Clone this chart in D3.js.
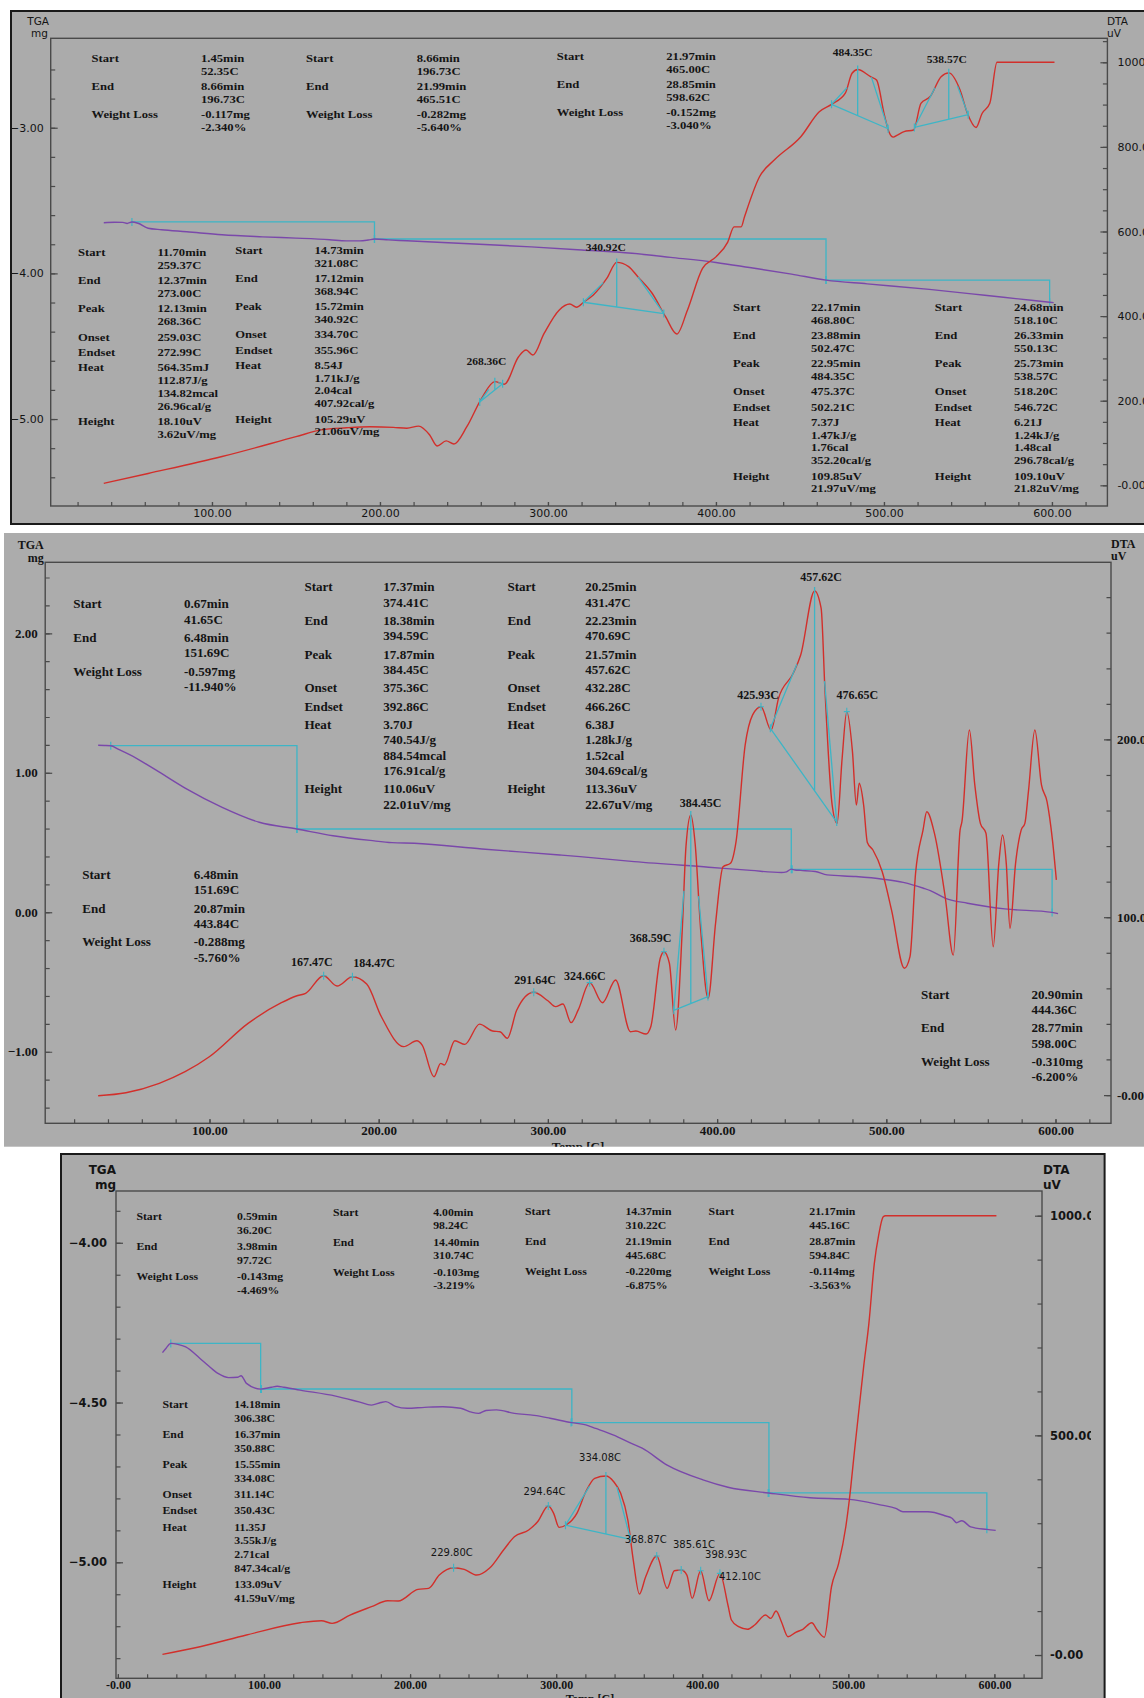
<!DOCTYPE html>
<html>
<head>
<meta charset="utf-8">
<script src="https://cdnjs.cloudflare.com/ajax/libs/d3/7.8.5/d3.min.js"></script>
<style>
	body { margin: 0; background: #fff; }
	svg { display: block; }
</style>
</head>
<body>
<div id="chart-area"></div>
<script>

// ---------- panel 1 data (temperature C, value) ----------
const p1Tga = [[35.6,-3.652],[42,-3.649],[47,-3.650],[49.5,-3.657],[52.35,-3.647],[56,-3.656],[62,-3.690],[70,-3.700],[85,-3.714],[106,-3.735],[130,-3.749],[150,-3.758],[170,-3.769],[180,-3.777],[188,-3.777],[193,-3.771],[196.73,-3.764],[205,-3.770],[216,-3.776],[250,-3.795],[290,-3.818],[320,-3.839],[350,-3.862],[373,-3.890],[400,-3.925],[420,-3.960],[445,-4.005],[465.51,-4.046],[490,-4.072],[527,-4.110],[560,-4.150],[580,-4.175],[598.62,-4.198],[601,-4.201]];
const p1Dta = [[35.6,4.7],[62,28],[106,68],[150,115],[165,131],[180,136],[194,138.5],[208,137],[216,135],[223,140],[229.6,119],[234,93],[239.4,105],[244,97.6],[251.7,138.5],[260.5,205.6],[268.36,245],[274,239],[282.5,304],[287,320],[291,308],[297.7,359],[306.6,414],[313,428.6],[317,421],[321.5,434],[327,450],[335,489],[340.92,527],[348,517],[353.5,493],[362,454],[370,398.6],[376.7,357.7],[383,414],[392,513],[400,540],[407,575],[410.8,611],[415,611],[417,635],[426,730],[435,770],[450.5,824],[461.5,883],[469,901],[477,927],[481,974],[484.35,983],[492,966],[495.6,958],[500,880],[503,835],[505.5,823],[508,828],[512,836],[517.7,840],[522,903],[527.5,919],[534,966],[538.57,975],[545.3,934.5],[549.7,879],[554.8,846],[558.4,879],[563,903],[567.3,1000],[601.5,1000]];
const p1StepStart = [52.35, 196.73, 465.51];
const p1StepEnd = [196.73, 465.51, 598.62];
const p1StepLoss = [-0.117, -0.282, -0.152];
const p1PeakStart = [259.37, 321.08, 468.80, 518.10];
const p1PeakTop = [268.36, 340.92, 484.35, 538.57];
const p1PeakEnd = [273.00, 368.94, 502.47, 550.13];
const p1Marks = [];
const p1MgTicks = [-5, -4, -3];
const p1UvTicks = [0, 200, 400, 600, 800, 1000];

// ---------- panel 2 data ----------
const p2Tga = [[34.2,1.197],[38,1.196],[41.65,1.194],[46,1.170],[52.8,1.130],[68,1.022],[85.6,0.890],[107.5,0.752],[129.4,0.645],[151.69,0.597],[173,0.549],[195,0.515],[208,0.499],[221,0.495],[261,0.454],[307,0.411],[319,0.399],[351,0.363],[395,0.323],[420,0.300],[438,0.285],[441,0.290],[443.84,0.309],[446,0.303],[449.4,0.300],[458,0.292],[465,0.268],[482,0.256],[498,0.237],[510,0.214],[522,0.172],[526,0.155],[535,0.100],[548,0.065],[570,0.024],[598,-0.001],[601.5,-0.010]];
const p2Dta = [[34.2,-0.4],[50.6,1.3],[70.3,6.6],[85.6,13.1],[99.9,21.5],[122.8,40.3],[142.5,51.9],[151.3,55.7],[156.8,57.2],[167.47,67.1],[175.4,61.3],[184.47,66.5],[192.9,62.4],[201.6,44],[214.8,27.2],[222.5,30.5],[225.7,28.1],[232.7,10.3],[236.6,17.8],[238.8,16.9],[245,30.5],[250.9,28.5],[259.6,39.9],[267.3,36],[271.7,35.6],[276,31.9],[281.6,47.8],[291.64,57.8],[300,53],[304.5,49.7],[308.9,51.2],[313.7,40.7],[318,48],[324.66,63.2],[332.3,51.9],[340,64.7],[348.8,35.6],[352,36],[358,34.3],[360.8,38.4],[366.4,76.9],[368.59,80.6],[371.8,74.1],[375.5,36.6],[379.4,92.8],[381.6,139.7],[384.45,157.5],[387,141.6],[390.3,92.8],[394.7,54.4],[399.1,96.6],[403.5,128.4],[407.9,130.3],[411.2,142.5],[416.6,196.9],[421,213.8],[425.93,218.4],[431.9,205.3],[436.3,223.1],[445,237.2],[449.4,247.5],[457.62,283.5],[461.5,273.7],[463.7,228.7],[468,163.1],[470.9,152.8],[473.9,189.4],[476.65,215.6],[480,193.1],[482.3,163.1],[484,175.3],[486.6,163.1],[488.8,142],[492.1,137.8],[497.6,125.6],[503.1,104],[510.7,71.3],[514,77.8],[517.3,124.7],[521.7,149],[523.9,159.3],[528.5,147],[534.8,111.5],[539.6,78.7],[543.6,149],[544.7,153.7],[549.1,205.3],[552.3,174.4],[555.6,152.8],[558.9,147.2],[563.2,83.4],[566.5,130.3],[568.7,146.2],[570.9,130.3],[573.1,93.8],[576.4,130.3],[579.7,149],[581.9,152.8],[584,170.6],[587.8,205.3],[591.7,174.4],[595,165],[598.3,142.5],[600.5,121]];
const p2StepStart = [41.65, 151.69, 444.36];
const p2StepEnd = [151.69, 443.84, 598.00];
const p2StepLoss = [-0.597, -0.288, -0.310];
const p2PeakStart = [374.41, 431.47];
const p2PeakTop = [384.45, 457.62];
const p2PeakEnd = [394.59, 470.69];
const p2Marks = [167.47, 184.47, 291.64, 324.66, 368.59, 425.93, 476.65];
const p2MgTicks = [-1, 0, 1, 2];
const p2UvTicks = [0, 100, 200];

// ---------- panel 3 data ----------
const p3Tga = [[30.5,-4.344],[33,-4.330],[36.2,-4.315],[41,-4.318],[46.4,-4.326],[56.2,-4.362],[62,-4.385],[68.5,-4.409],[75.8,-4.422],[81.9,-4.421],[84.3,-4.416],[88,-4.440],[97.72,-4.458],[105.1,-4.452],[109,-4.449],[113.6,-4.452],[124.7,-4.461],[149.1,-4.480],[165,-4.498],[173.6,-4.508],[180,-4.500],[183.4,-4.497],[190,-4.512],[198,-4.518],[210,-4.515],[222.5,-4.513],[234.7,-4.518],[242,-4.530],[246.9,-4.534],[252,-4.525],[259.1,-4.523],[271.4,-4.534],[285,-4.540],[295.8,-4.549],[310.5,-4.563],[320.3,-4.570],[327.1,-4.581],[339.4,-4.602],[351.5,-4.628],[358.9,-4.643],[376,-4.696],[400.5,-4.742],[417.6,-4.765],[445.5,-4.783],[473.8,-4.798],[500.7,-4.803],[522.7,-4.821],[532.5,-4.831],[537.4,-4.842],[554.5,-4.842],[566.7,-4.855],[571,-4.862],[574.1,-4.876],[577.7,-4.870],[583.8,-4.889],[594.84,-4.897],[600.9,-4.900]];
const p3Dta = [[30.5,1.6],[56.2,18.9],[88,45.5],[124.7,73.5],[139.3,78.1],[146.6,72.1],[158.9,91],[173.6,110],[184.6,123.6],[191.9,122.9],[205.4,149.5],[212.7,151.8],[220,182],[229.8,198.7],[237.1,195],[245.7,182],[254.3,197.3],[264,239],[271.4,269.2],[281.2,284.5],[287.3,303.4],[294.64,339.1],[298.3,322.5],[302,290.6],[306.8,295.9],[314.2,322.5],[320.3,371.6],[326.4,402.1],[334.08,407.4],[339.4,394.4],[344.2,368],[349.1,307.2],[352.8,216.2],[357,138.8],[361.3,178.2],[368.87,225.3],[376,151.8],[380.9,191.9],[385.61,193.4],[389.5,182],[393.1,129],[398.93,191.9],[404.6,123.6],[412.1,185.9],[417.6,113.8],[420,79.7],[424.9,64.4],[431,58.5],[435.9,68.3],[443.3,91],[446.9,83.5],[450.6,100.1],[454.2,75.8],[458.7,41.6],[464,51.7],[468.9,58.5],[475,73.5],[478.7,56.9],[483.6,40.3],[488.5,155.4],[493.4,208.7],[498.3,292],[500.7,352.8],[504.3,466.5],[508,580],[510.5,656],[514.1,755],[517.8,891],[520.8,956],[523.9,997.5],[525.5,1000],[601.4,1000]];
const p3StepStart = [36.20, 98.24, 310.22, 445.16];
const p3StepEnd = [97.72, 310.74, 445.68, 594.84];
const p3StepLoss = [-0.143, -0.103, -0.220, -0.114];
const p3PeakStart = [306.38];
const p3PeakTop = [334.08];
const p3PeakEnd = [350.88];
const p3Marks = [229.80, 294.64, 368.87, 385.61, 398.93, 412.10];
const p3MgTicks = [-5, -4.5, -4];
const p3UvTicks = [0, 500, 1000];

const xTicks = [100, 200, 300, 400, 500, 600];
const xTicks3 = [0, 100, 200, 300, 400, 500, 600];

// ---------- result tables ----------
const p1Blocks = [
	[['Start','1.45min'],['','52.35C'],['End','8.66min'],['','196.73C'],['Weight Loss','-0.117mg'],['','-2.340%']],
	[['Start','8.66min'],['','196.73C'],['End','21.99min'],['','465.51C'],['Weight Loss','-0.282mg'],['','-5.640%']],
	[['Start','21.97min'],['','465.00C'],['End','28.85min'],['','598.62C'],['Weight Loss','-0.152mg'],['','-3.040%']],
	[['Start','11.70min'],['','259.37C'],['End','12.37min'],['','273.00C'],['Peak','12.13min'],['','268.36C'],['Onset','259.03C'],['Endset','272.99C'],['Heat','564.35mJ'],['','112.87J/g'],['','134.82mcal'],['','26.96cal/g'],['Height','18.10uV'],['','3.62uV/mg']],
	[['Start','14.73min'],['','321.08C'],['End','17.12min'],['','368.94C'],['Peak','15.72min'],['','340.92C'],['Onset','334.70C'],['Endset','355.96C'],['Heat','8.54J'],['','1.71kJ/g'],['','2.04cal'],['','407.92cal/g'],['Height','105.29uV'],['','21.06uV/mg']],
	[['Start','22.17min'],['','468.80C'],['End','23.88min'],['','502.47C'],['Peak','22.95min'],['','484.35C'],['Onset','475.37C'],['Endset','502.21C'],['Heat','7.37J'],['','1.47kJ/g'],['','1.76cal'],['','352.20cal/g'],['Height','109.85uV'],['','21.97uV/mg']],
	[['Start','24.68min'],['','518.10C'],['End','26.33min'],['','550.13C'],['Peak','25.73min'],['','538.57C'],['Onset','518.20C'],['Endset','546.72C'],['Heat','6.21J'],['','1.24kJ/g'],['','1.48cal'],['','296.78cal/g'],['Height','109.10uV'],['','21.82uV/mg']]
];
const p2Blocks = [
	[['Start','0.67min'],['','41.65C'],['End','6.48min'],['','151.69C'],['Weight Loss','-0.597mg'],['','-11.940%']],
	[['Start','17.37min'],['','374.41C'],['End','18.38min'],['','394.59C'],['Peak','17.87min'],['','384.45C'],['Onset','375.36C'],['Endset','392.86C'],['Heat','3.70J'],['','740.54J/g'],['','884.54mcal'],['','176.91cal/g'],['Height','110.06uV'],['','22.01uV/mg']],
	[['Start','20.25min'],['','431.47C'],['End','22.23min'],['','470.69C'],['Peak','21.57min'],['','457.62C'],['Onset','432.28C'],['Endset','466.26C'],['Heat','6.38J'],['','1.28kJ/g'],['','1.52cal'],['','304.69cal/g'],['Height','113.36uV'],['','22.67uV/mg']],
	[['Start','6.48min'],['','151.69C'],['End','20.87min'],['','443.84C'],['Weight Loss','-0.288mg'],['','-5.760%']],
	[['Start','20.90min'],['','444.36C'],['End','28.77min'],['','598.00C'],['Weight Loss','-0.310mg'],['','-6.200%']]
];
const p3Blocks = [
	[['Start','0.59min'],['','36.20C'],['End','3.98min'],['','97.72C'],['Weight Loss','-0.143mg'],['','-4.469%']],
	[['Start','4.00min'],['','98.24C'],['End','14.40min'],['','310.74C'],['Weight Loss','-0.103mg'],['','-3.219%']],
	[['Start','14.37min'],['','310.22C'],['End','21.19min'],['','445.68C'],['Weight Loss','-0.220mg'],['','-6.875%']],
	[['Start','21.17min'],['','445.16C'],['End','28.87min'],['','594.84C'],['Weight Loss','-0.114mg'],['','-3.563%']],
	[['Start','14.18min'],['','306.38C'],['End','16.37min'],['','350.88C'],['Peak','15.55min'],['','334.08C'],['Onset','311.14C'],['Endset','350.43C'],['Heat','11.35J'],['','3.55kJ/g'],['','2.71cal'],['','847.34cal/g'],['Height','133.09uV'],['','41.59uV/mg']]
];

// ---------- styles ----------
const serif = '"Liberation Serif", "Times New Roman", serif';
const sans = '"DejaVu Sans", Verdana, sans-serif';
const cyan = '#3db5c6';
const purple = '#7a48aa';
const red = '#d22f2b';
const ink = '#141414';

// layout of each panel (page pixels)
const panels = [
	{
		bg: [11, 11, 1150, 513], fill: '#ababab', border: true, clip: [11, 11, 1150, 513],
		plot: { left: 50.7, right: 1107.4, top: 38.3, bottom: 506 },
		tDomain: [4, 633], mgDomain: [-5.597, -2.386], uvDomain: [-48.9, 1056.7],
		tga: p1Tga, dta: p1Dta, steps: [p1StepStart, p1StepEnd, p1StepLoss],
		peaks: [p1PeakStart, p1PeakTop, p1PeakEnd], marks: p1Marks,
		labelOff: [[-8.4,-21],[-11,-15.7],[-5,-17.5],[-2,-13.6]],
		xTicks: xTicks, mgTicks: p1MgTicks, uvTicks: p1UvTicks, mgStep: 0.2, uvStep: 50, xStart: 20,
		pad: { left: 7, right: 10, bottom: 3.5 },
		tickFont: [sans, 11, 'normal'], xFont: [sans, 11, 'normal'], unitFont: [sans, 10.5, 'normal'],
		blockFont: [serif, 11, 'bold', 1.15], peakFont: [serif, 11, 'bold', 1.05],
		units: { tga: [49, 25], mg: [48, 37], dta: [1107, 25], uv: [1107, 37] },
		blocks: p1Blocks,
		blockPos: [[91.5, 201, 58.3], [306, 416.7, 58.3], [556.7, 666.3, 56.3], [78, 157.4, 252.3], [235.2, 314.4, 250], [733, 811, 307], [934.8, 1014, 307]],
		gaps: [15.3, 12.8], tempLabel: null
	},
	{
		bg: [4, 533, 1150, 613.7], fill: '#acacac', border: false, clip: [4, 533, 1150, 613.7],
		plot: { left: 45.2, right: 1111, top: 562.3, bottom: 1123.3 },
		tDomain: [2.9, 632.8], mgDomain: [-1.513, 2.509], uvDomain: [-15.9, 299.6],
		tga: p2Tga, dta: p2Dta, steps: [p2StepStart, p2StepEnd, p2StepLoss],
		peaks: [p2PeakStart, p2PeakTop, p2PeakEnd], marks: p2Marks,
		labelOff: [[9.9,-11.7],[6.4,-14.3],[-11.8,-14],[21.6,-14],[1.4,-12.2],[-4.8,-7],[-13.3,-13.4],[-3,-11.7],[10.6,-16.7]],
		xTicks: xTicks, mgTicks: p2MgTicks, uvTicks: p2UvTicks, mgStep: 0.2, uvStep: 20, xStart: 20,
		pad: { left: 7.4, right: 6, bottom: 2.2 },
		tickFont: [serif, 13, 'bold'], xFont: [serif, 13, 'bold'], unitFont: [serif, 12, 'bold'],
		blockFont: [serif, 12, 'bold', 1.09], peakFont: [serif, 12, 'bold', 1],
		units: { tga: [43.7, 548.5], mg: [43.7, 561.5], dta: [1111, 548], uv: [1111, 560] },
		blocks: p2Blocks,
		blockPos: [[73.3, 184, 604.3], [304.4, 383.3, 587.3], [507.4, 585.2, 587.3], [82.2, 193.7, 875], [921, 1031.5, 994.7]],
		gaps: [18.3, 15.4], tempLabel: [578, 1150.5, 13]
	},
	{
		bg: [61, 1154, 1043.6, 560], fill: '#aaaaaa', border: true, clip: [61, 1154, 1030, 560],
		plot: { left: 116, right: 1042, top: 1191, bottom: 1678.3 },
		tDomain: [-1.3, 632.6], mgDomain: [-5.363, -3.838], uvDomain: [-53, 1056.2],
		tga: p3Tga, dta: p3Dta, steps: [p3StepStart, p3StepEnd, p3StepLoss],
		peaks: [p3PeakStart, p3PeakTop, p3PeakEnd], marks: p3Marks,
		labelOff: [[-5.9,-19.3],[-1.8,-16],[-3.7,-15.3],[-11,-16.8],[12.7,-25.7],[25.4,-16.7],[20,2.4]],
		xTicks: xTicks3, mgTicks: p3MgTicks, uvTicks: p3UvTicks, mgStep: 0.1, uvStep: 100, xStart: 0,
		pad: { left: 9, right: 8, bottom: 1.8 },
		tickFont: [sans, 11.5, 'bold'], xFont: [serif, 12, 'bold'], unitFont: [sans, 12, 'bold'],
		blockFont: [serif, 11, 'bold', 1.07], peakFont: [sans, 10, 'normal', 1],
		units: { tga: [116, 1173.5], mg: [116, 1188.5], dta: [1043, 1174], uv: [1043, 1188.5] },
		blocks: p3Blocks,
		blockPos: [[136.4, 237.1, 1216], [332.9, 433.2, 1211.7], [525, 625.4, 1211], [708.6, 809.3, 1211], [162.5, 234.3, 1404]],
		gaps: [16.4, 13.6], tempLabel: [590, 1703, 12]
	}
];

// linear interpolation on a [temp, value] series
function interp(data, t) {
	let i = d3.bisector(d => d[0]).left(data, t);
	if (i <= 0) return data[0][1];
	if (i >= data.length) return data[data.length - 1][1];
	let a = data[i - 1], b = data[i];
	return a[1] + (b[1] - a[1]) * (t - a[0]) / (b[0] - a[0]);
}

const fmt2 = d3.format('.2f');
const zeroFmt = v => (v === 0 ? '-0.00' : fmt2(v));

function setFont(sel, f) {
	sel.attr('font-family', f[0]).attr('font-size', f[1] + 'px').attr('font-weight', f[2]).attr('fill', ink);
}

function styleAxis(axisG, f) {
	axisG.select('.domain').remove();
	axisG.selectAll('line').attr('stroke', '#4a4a4a').attr('stroke-width', 1.2);
	setFont(axisG.selectAll('text'), f);
	axisG.attr('font-family', null).attr('font-size', null);
}

const svg = d3.select('#chart-area').append('svg')
	.attr('width', 1144)
	.attr('height', 1698);

panels.forEach((p, pi) => drawPanel(p, pi));

function drawPanel(p, pi) {
	let [bx, by, bw, bh] = p.bg;
	svg.append('rect')
		.attr('x', bx).attr('y', by).attr('width', bw).attr('height', bh)
		.attr('fill', p.fill);

	svg.append('clipPath').attr('id', 'clip' + pi).append('rect')
		.attr('x', p.clip[0]).attr('y', p.clip[1])
		.attr('width', p.clip[2]).attr('height', p.clip[3]);
	let root = svg.append('g').attr('clip-path', 'url(#clip' + pi + ')');

	let pl = p.plot;
	let width = pl.right - pl.left;
	let height = pl.bottom - pl.top;
	let g = root.append('g')
		.attr('transform', 'translate(' + pl.left + ', ' + pl.top + ')');

	let x = d3.scaleLinear().domain(p.tDomain).range([0, width]);
	let yMg = d3.scaleLinear().domain(p.mgDomain).range([height, 0]);
	let yUv = d3.scaleLinear().domain(p.uvDomain).range([height, 0]);

	// minor ticks
	let xMinor = d3.range(p.xStart, 621, 20);
	let mgMinor = d3.range(Math.ceil(p.mgDomain[0] / p.mgStep) * p.mgStep, p.mgDomain[1], p.mgStep)
		.filter(v => yMg(v) > 4 && yMg(v) < height - 4);
	let uvMinor = d3.range(0, p.uvDomain[1], p.uvStep).filter(v => yUv(v) > 2);

	styleAxis(g.append('g').attr('transform', 'translate(0, ' + height + ')')
		.call(d3.axisBottom(x).tickValues(xMinor).tickSize(-4).tickFormat('')), p.xFont);
	styleAxis(g.append('g')
		.call(d3.axisLeft(yMg).tickValues(mgMinor).tickSize(-4.5).tickFormat('')), p.tickFont);
	styleAxis(g.append('g').attr('transform', 'translate(' + width + ', 0)')
		.call(d3.axisRight(yUv).tickValues(uvMinor).tickSize(-4.5).tickFormat('')), p.tickFont);

	// labelled axes
	styleAxis(g.append('g').attr('transform', 'translate(0, ' + height + ')')
		.call(d3.axisBottom(x).tickValues(p.xTicks).tickSize(-4).tickPadding(p.pad.bottom).tickFormat(zeroFmt)), p.xFont);
	styleAxis(g.append('g')
		.call(d3.axisLeft(yMg).tickValues(p.mgTicks).tickSize(-7).tickPadding(p.pad.left).tickFormat(fmt2)), p.tickFont);
	styleAxis(g.append('g').attr('transform', 'translate(' + width + ', 0)')
		.call(d3.axisRight(yUv).tickValues(p.uvTicks).tickSize(-7).tickPadding(p.pad.right).tickFormat(zeroFmt)), p.tickFont);

	// frame
	g.append('rect')
		.attr('width', width).attr('height', height)
		.attr('fill', 'none').attr('stroke', '#4a4a4a').attr('stroke-width', 1.4);

	// axis unit labels
	let u = p.units;
	[['TGA', u.tga, 'end'], ['mg', u.mg, 'end'], ['DTA', u.dta, 'start'], ['uV', u.uv, 'start']].forEach(d => {
		setFont(root.append('text').attr('x', d[1][0]).attr('y', d[1][1])
			.attr('text-anchor', d[2]).text(d[0]), p.unitFont);
	});

	// weight-loss steps on the TGA curve
	let [ss, se, sl] = p.steps;
	ss.forEach((t0, i) => {
		let lev = interp(p.tga, t0);
		g.append('path')
			.attr('d', 'M' + x(t0) + ',' + yMg(lev) + 'H' + x(se[i]) + 'V' + yMg(lev + sl[i]))
			.attr('fill', 'none').attr('stroke', cyan).attr('stroke-width', 1.3);
		g.append('path')
			.attr('d', 'M' + x(t0) + ',' + (yMg(lev) - 4) + 'v8M' + x(se[i]) + ',' + (yMg(lev + sl[i]) - 4) + 'v8')
			.attr('stroke', cyan).attr('stroke-width', 1.2);
	});

	let lineMg = d3.line().x(d => x(d[0])).y(d => yMg(d[1])).curve(d3.curveMonotoneX);
	let lineUv = d3.line().x(d => x(d[0])).y(d => yUv(d[1])).curve(d3.curveMonotoneX);

	g.append('path').datum(p.tga)
		.attr('d', lineMg)
		.attr('fill', 'none').attr('stroke', purple).attr('stroke-width', 1.4);
	g.append('path').datum(p.dta)
		.attr('d', lineUv)
		.attr('fill', 'none').attr('stroke', red).attr('stroke-width', 1.4);

	// integrated DTA peaks: baseline, peak drop line, flank tangents
	let [ps, pt, pe] = p.peaks;
	pt.forEach((tp, i) => {
		let t0 = ps[i], t1 = pe[i];
		let v0 = interp(p.dta, t0), v1 = interp(p.dta, t1);
		let base = v0 + (v1 - v0) * (tp - t0) / (t1 - t0);
		let tl = t0 + 0.6 * (tp - t0), tr = tp + 0.45 * (t1 - tp);
		let d = 'M' + x(t0) + ',' + yUv(v0) + 'L' + x(t1) + ',' + yUv(v1)
			+ 'M' + x(tp) + ',' + (yUv(interp(p.dta, tp)) - 4) + 'L' + x(tp) + ',' + yUv(base)
			+ 'M' + x(t0) + ',' + yUv(v0) + 'L' + x(tl) + ',' + yUv(interp(p.dta, tl))
			+ 'M' + x(tr) + ',' + yUv(interp(p.dta, tr)) + 'L' + x(t1) + ',' + yUv(v1);
		g.append('path').attr('d', d)
			.attr('fill', 'none').attr('stroke', cyan).attr('stroke-width', 1.3);
		g.append('path')
			.attr('d', 'M' + x(t0) + ',' + (yUv(v0) - 4) + 'v8M' + x(t1) + ',' + (yUv(v1) - 4) + 'v8')
			.attr('stroke', cyan).attr('stroke-width', 1.2);
	});

	// peak temperature labels
	let allPeaks = pt.concat(p.marks);
	allPeaks.forEach((tp, i) => {
		let px = x(tp), py = yUv(interp(p.dta, tp));
		if (i >= pt.length) {
			g.append('path').attr('d', 'M' + (px - 3) + ',' + py + 'h6M' + px + ',' + (py - 4) + 'v8')
				.attr('stroke', cyan).attr('stroke-width', 1.1);
		}
		let off = p.labelOff[i];
		let t = g.append('text')
			.attr('transform', 'translate(' + (px + off[0]) + ',' + (py + off[1] + 4) + ') scale(' + p.peakFont[3] + ',1)')
			.attr('text-anchor', 'middle')
			.text(fmt2(tp) + 'C');
		setFont(t, p.peakFont);
	});

	// result tables
	let bf = p.blockFont;
	p.blocks.forEach((rows, bi) => {
		let [lx, vx, y0] = p.blockPos[bi];
		let tg = root.append('g').attr('transform', 'translate(' + lx + ', 0) scale(' + bf[3] + ', 1)');
		let y = y0;
		rows.forEach((r, ri) => {
			if (ri > 0) y += r[0] === '' ? p.gaps[1] : p.gaps[0];
			if (r[0]) setFont(tg.append('text').attr('x', 0).attr('y', y + 4).text(r[0]), bf);
			setFont(tg.append('text').attr('x', (vx - lx) / bf[3]).attr('y', y + 4).text(r[1]), bf);
		});
	});

	if (p.tempLabel) {
		setFont(root.append('text')
			.attr('x', p.tempLabel[0]).attr('y', p.tempLabel[1])
			.attr('text-anchor', 'middle').text('Temp [C]'), [serif, p.tempLabel[2], 'bold']);
	}

	if (p.border) {
		svg.append('rect')
			.attr('x', bx).attr('y', by).attr('width', bw).attr('height', bh)
			.attr('fill', 'none').attr('stroke', '#1a1a1a').attr('stroke-width', 2);
	}
}

</script>
</body>
</html>
